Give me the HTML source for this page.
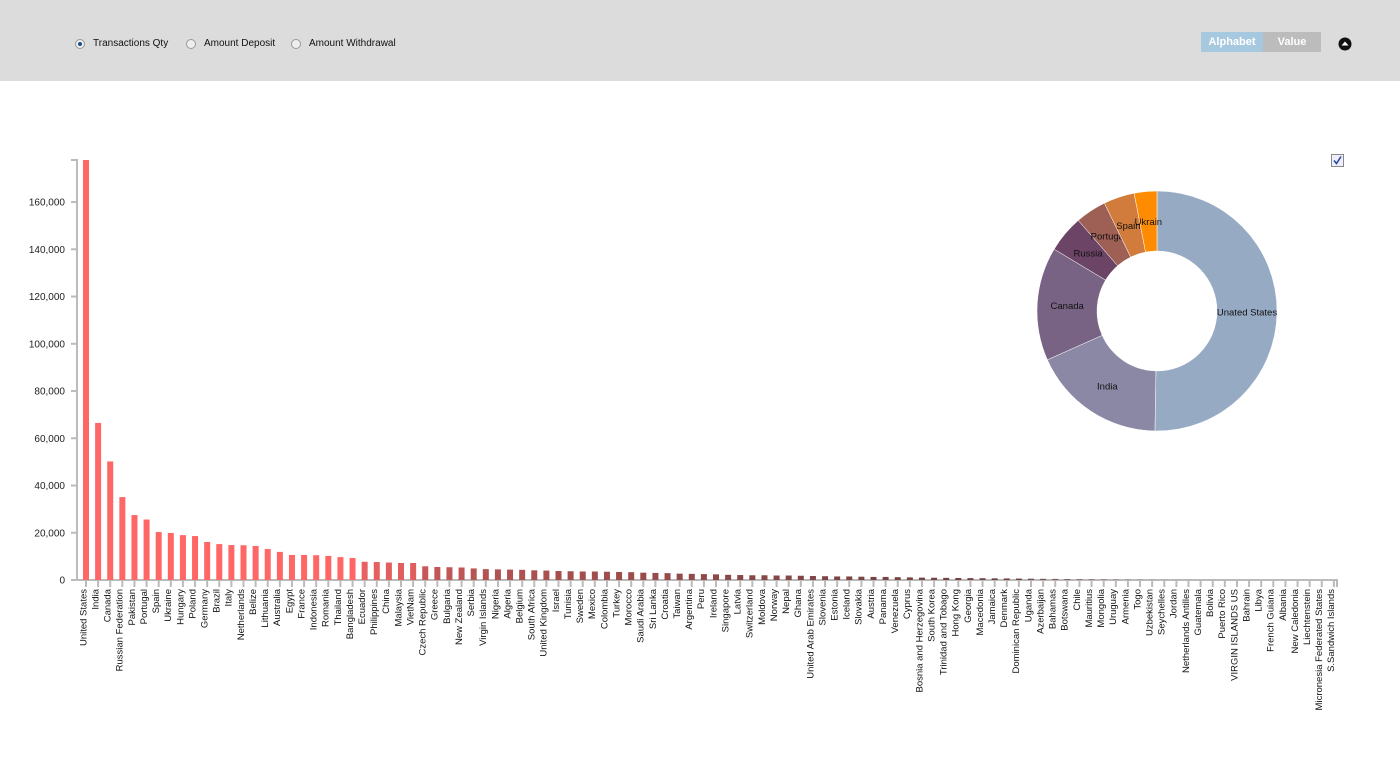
<!DOCTYPE html>
<html><head><meta charset="utf-8"><style>
body{margin:0;width:1400px;height:765px;background:#fff;font-family:"Liberation Sans",sans-serif;overflow:hidden;position:relative}
#hdr{position:absolute;left:0;top:0;width:1400px;height:81px;background:#dcdcdc}
.rad{position:absolute;top:38px;font-size:10px;color:#111;display:flex;align-items:center}
.rad i{display:inline-block;width:10px;height:10px;border-radius:50%;border:1px solid #999;background:#eee;margin-right:8px;box-sizing:border-box;position:relative}
.rad i.on::after{content:"";position:absolute;left:2px;top:2px;width:4px;height:4px;border-radius:50%;background:#1d4f8a}
.btn{position:absolute;top:32px;height:20px;line-height:20px;text-align:center;color:#fff;font-size:11px;font-weight:bold}
</style></head><body>
<div id="hdr">
<div class="rad" style="left:75px"><i class="on"></i>Transactions Qty</div>
<div class="rad" style="left:186px"><i></i>Amount Deposit</div>
<div class="rad" style="left:291px"><i></i>Amount Withdrawal</div>
<div class="btn" style="left:1201px;width:62px;background:#a6c9df">Alphabet</div>
<div class="btn" style="left:1263px;width:58px;background:#bcbcbc">Value</div>
<svg style="position:absolute;left:1338px;top:37px" width="14" height="14"><circle cx="7" cy="7" r="6.5" fill="#111"/><path d="M3.5 8.5 L7 4.5 L10.5 8.5Z" fill="#fff"/></svg>
</div>
<svg id="chart" width="1400" height="765" style="position:absolute;left:0;top:0;pointer-events:none"></svg>
<svg style="position:absolute;left:1331px;top:154px" width="13" height="13"><rect x="0.5" y="0.5" width="12" height="12" fill="#eef" stroke="#888"/><path d="M3 6.5 L5.5 9.5 L10 2.5" fill="none" stroke="#2a4a9a" stroke-width="1.6"/></svg>
<script>
const categories=["United States","India","Canada","Russian Federation","Pakistan","Portugal","Spain","Ukraine","Hungary","Poland","Germany","Brazil","Italy","Netherlands","Belize","Lithuania","Australia","Egypt","France","Indonesia","Romania","Thailand","Bangladesh","Ecuador","Philippines","China","Malaysia","VietNam","Czech Republic","Greece","Bulgaria","New Zealand","Serbia","Virgin Islands","Nigeria","Algeria","Belgium","South Africa","United Kingdom","Israel","Tunisia","Sweden","Mexico","Colombia","Turkey","Morocco","Saudi Arabia","Sri Lanka","Croatia","Taiwan","Argentina","Peru","Ireland","Singapore","Latvia","Switzerland","Moldova","Norway","Nepal","Ghana","United Arab Emirates","Slovenia","Estonia","Iceland","Slovakia","Austria","Panama","Venezuela","Cyprus","Bosnia and Herzegovina","South Korea","Trinidad and Tobago","Hong Kong","Georgia","Macedonia","Jamaica","Denmark","Dominican Republic","Uganda","Azerbaijan","Bahamas","Botswana","Chile","Mauritius","Mongolia","Uruguay","Armenia","Togo","Uzbekistan","Seychelles","Jordan","Netherlands Antilles","Guatemala","Bolivia","Puerto Rico","VIRGIN ISLANDS US","Bahrain","Libya","French Guiana","Albania","New Caledonia","Liechtenstein","Micronesia Federated States","S.Sandwich Islands"];
const values=[177800,66500,50200,35100,27500,25600,20300,19900,19000,18600,16100,15200,14800,14700,14400,13100,11900,10600,10600,10500,10200,9700,9300,7700,7600,7400,7200,7200,5800,5500,5400,5300,4900,4600,4500,4400,4300,4100,4000,3800,3700,3600,3600,3500,3400,3300,3100,3000,2900,2700,2600,2500,2400,2200,2100,2000,2000,1900,1900,1800,1700,1600,1500,1500,1400,1300,1300,1200,1100,1000,950,900,850,800,750,700,650,600,550,500,460,420,380,340,300,260,230,200,170,150,130,110,90,80,70,60,50,40,30,25,20,15,10,5,3];
const yTicks=[0,20000,40000,60000,80000,100000,120000,140000,160000];
const pieLabels=["Unated States","India","Canada","Russia","Portuga","Spain","Ukrain"];
const pieValues=[181,65,55,18,15,15,11];
const pieColors=["#97aac4","#8a88a4","#786384","#6b4466","#9e5f55","#d17b3d","#ff8c00"];
const NS="http://www.w3.org/2000/svg";
const svg=document.getElementById('chart');
function mk(t,a,p){const e=document.createElementNS(NS,t);for(const k in a)e.setAttribute(k,a[k]);(p||svg).appendChild(e);return e;}
const X0=77,X1=1337,Y0=580,YMAX=177800,YTOP=160;
const BW=(X1-X0)/categories.length;
const y=v=>Y0-(v/YMAX)*(Y0-YTOP);
const x=i=>X0+i*BW+6;
function col(v){
 if(v>=9000)return "#ff6666";
 const c1=[255,102,102],c2=[110,64,64],c3=[190,180,180];
 let t,a,b;
 if(v>=600){t=(9000-v)/8400;a=c1;b=c2;}else{t=(600-v)/600;a=c2;b=c3;}
 return "rgb("+a.map((c,k)=>Math.round(c+(b[k]-c)*t)).join(",")+")";
}
const ya=mk('path',{d:`M71 ${YTOP}H77V${Y0}H71`,fill:'none',stroke:'#bbb','stroke-width':2});

yTicks.forEach(t=>{
 const l=mk('line',{x1:71,x2:77,y1:y(t),y2:y(t),stroke:'#bbb','stroke-width':2});
 
 const tx=mk('text',{x:65,y:y(t)+3.5,'text-anchor':'end','font-size':10,fill:'#222'});
 tx.textContent=t.toLocaleString('en-US');
 
});
const xa=mk('path',{d:`M77 ${Y0}H${X1}V${Y0+7}`,fill:'none',stroke:'#bbb','stroke-width':2});

categories.forEach((c,i)=>{
 const v=values[i];
 const r=mk('rect',{x:x(i),y:y(v),width:6,height:Y0-y(v),fill:col(v)});
 
 
 const tk=mk('line',{x1:x(i)+3,x2:x(i)+3,y1:Y0,y2:Y0+7,stroke:'#bbb','stroke-width':2});
 
 const tx=mk('text',{transform:`translate(${x(i)},${Y0+9}) rotate(-90)`,'text-anchor':'end','font-size':9.5,fill:'#111',dy:'0.35em'});
 tx.textContent=c;
 
});
const cx=1157,cy=311,R=120,r0=60;
const tot=pieValues.reduce((a,b)=>a+b,0);
let ang=0;
const g=mk('g',{});

pieValues.forEach((v,i)=>{
 const a0=ang,a1=ang+v/tot*2*Math.PI;ang=a1;
 const P=(rad,a)=>[cx+rad*Math.sin(a),cy-rad*Math.cos(a)];
 const lg=(a1-a0)>Math.PI?1:0;
 const [x1,y1]=P(R,a0),[x2,y2]=P(R,a1),[x3,y3]=P(r0,a1),[x4,y4]=P(r0,a0);
 const p=mk('path',{d:`M${x1} ${y1}A${R} ${R} 0 ${lg} 1 ${x2} ${y2}L${x3} ${y3}A${r0} ${r0} 0 ${lg} 0 ${x4} ${y4}Z`,fill:pieColors[i],stroke:'#fff','stroke-width':0.5},g);
 
 
 const am=(a0+a1)/2,[lx,ly]=P(90,am);
 const t=mk('text',{x:lx,y:ly+3.5,'text-anchor':'middle','font-size':9.5,fill:'#111'},g);
 t.textContent=pieLabels[i];
 
});
</script>
</body></html>
